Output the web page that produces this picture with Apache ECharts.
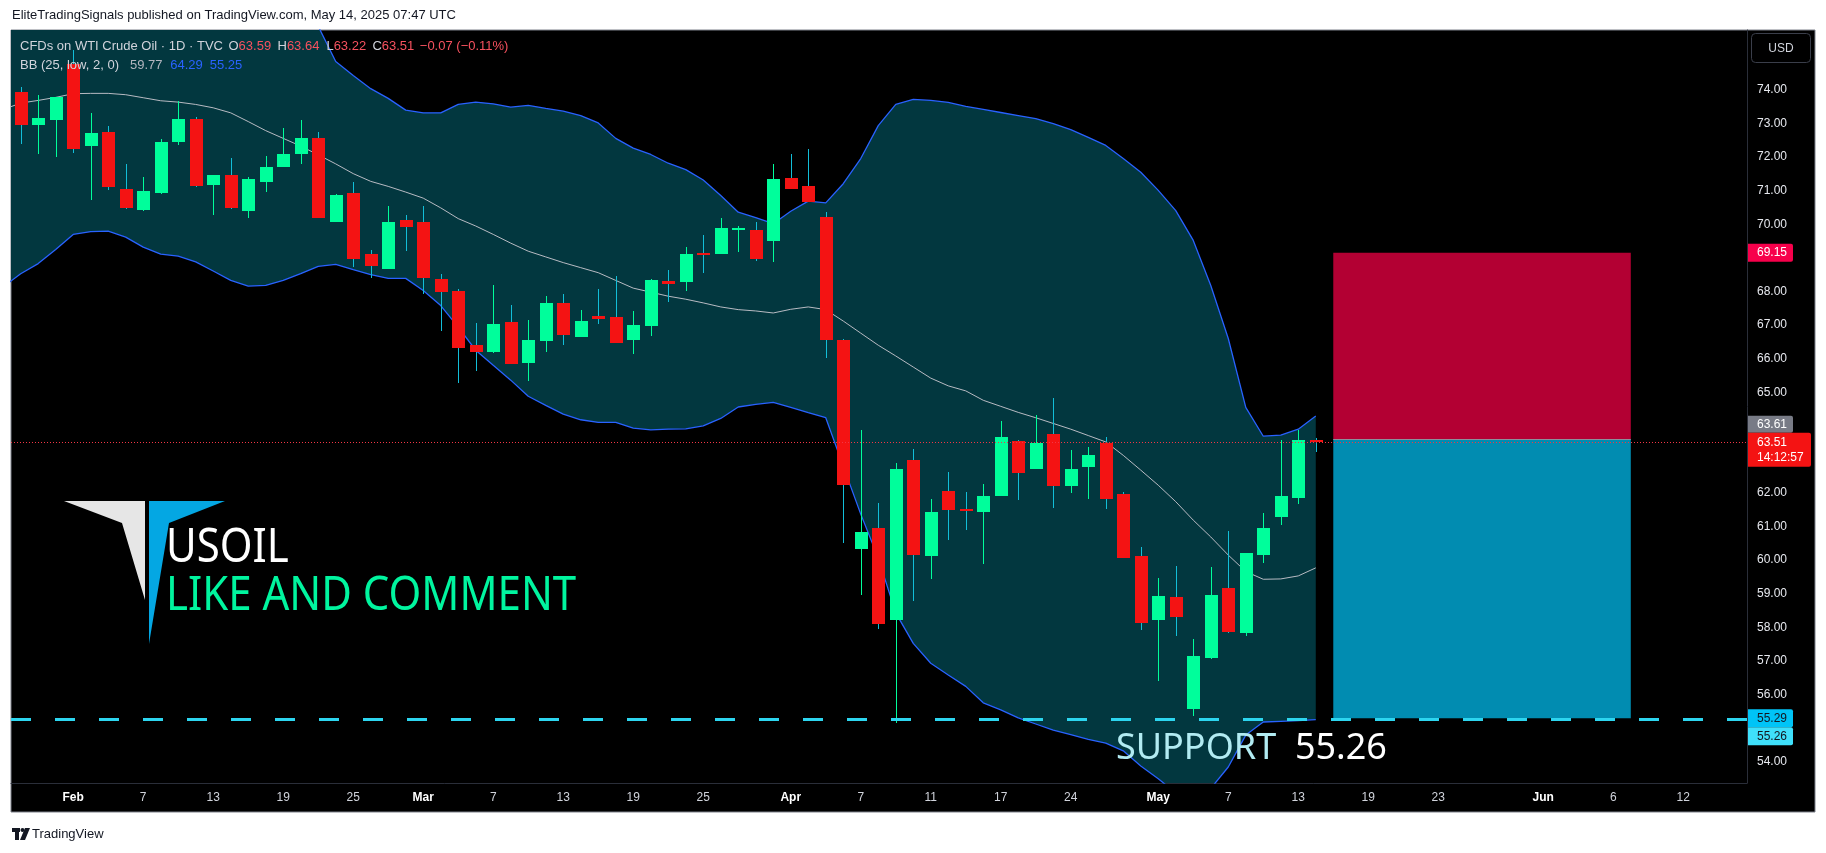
<!DOCTYPE html>
<html><head><meta charset="utf-8">
<script src="https://cdn.jsdelivr.net/npm/echarts@6/dist/echarts.min.js"></script>
<style>html,body{margin:0;padding:0;background:#fff}#c{width:1826px;height:853px}</style>
</head><body><div id="c"></div>
<script>
// ---------------- DATA ----------------
const candleDates = ['01-29','01-30','01-31','02-03','02-04','02-05','02-06','02-07','02-10','02-11','02-12','02-13','02-14','02-17','02-18','02-19','02-20','02-21','02-24','02-25','02-26','02-27','02-28','03-03','03-04','03-05','03-06','03-07','03-10','03-11','03-12','03-13','03-14','03-17','03-18','03-19','03-20','03-21','03-24','03-25','03-26','03-27','03-28','03-31','04-01','04-02','04-03','04-04','04-07','04-08','04-09','04-10','04-11','04-14','04-15','04-16','04-17','04-21','04-22','04-23','04-24','04-25','04-28','04-29','04-30','05-01','05-02','05-05','05-06','05-07','05-08','05-09','05-12','05-13','05-14'];
const futureDates = ['05-15','05-16','05-19','05-20','05-21','05-22','05-23','05-26','05-27','05-28','05-29','05-30','06-02','06-03','06-04','06-05','06-06','06-09','06-10','06-11','06-12','06-13','06-16','06-17','06-18','06-19','06-20'];
const opens  = [73.93,72.95,73.10,74.78,72.33,72.74,71.04,70.42,70.93,72.45,73.15,71.16,71.46,70.39,71.26,71.70,72.09,72.56,70.07,70.92,69.11,68.67,70.12,70.06,68.36,68.00,66.40,66.20,67.08,65.87,66.53,67.65,66.65,67.26,67.23,66.56,66.97,68.30,68.28,69.16,69.11,69.82,69.82,69.50,71.37,71.13,70.21,66.56,60.34,60.95,58.22,62.98,60.13,62.05,61.53,61.44,61.91,63.54,62.72,63.75,62.21,62.78,63.49,61.97,60.12,58.22,58.89,55.58,57.09,59.16,57.84,60.16,61.29,61.85,63.59];
const highs  = [74.08,73.84,73.80,75.18,73.33,72.94,71.81,71.40,72.53,73.66,73.21,71.46,71.99,71.40,72.02,72.88,73.12,72.74,70.89,71.25,69.25,70.54,70.27,70.56,68.53,68.06,67.05,68.18,67.59,67.14,67.86,67.92,67.44,68.06,68.45,67.41,68.36,68.63,69.31,69.67,70.18,69.94,70.06,71.81,72.08,72.23,70.36,66.60,63.87,61.69,62.89,63.30,61.82,62.62,62.02,62.26,64.14,63.57,64.32,64.82,63.27,63.37,63.66,62.02,60.39,59.46,59.82,57.64,59.79,60.88,60.21,61.40,63.57,63.87,63.64];
const lows   = [72.38,72.09,72.00,72.12,70.72,71.02,70.45,70.40,70.90,72.36,71.12,70.27,70.45,70.19,70.96,71.70,71.79,70.19,70.07,68.73,68.40,68.67,69.20,67.94,66.82,65.28,65.63,66.17,65.84,65.34,66.20,66.41,66.65,67.03,66.47,66.14,66.67,67.69,68.01,68.55,69.11,69.17,68.91,68.88,71.04,70.66,66.02,60.50,58.97,57.96,55.14,58.79,59.44,60.60,60.90,59.89,61.91,61.79,62.72,61.56,62.00,61.83,61.53,60.07,57.93,56.41,57.75,55.37,57.05,57.84,57.75,59.92,61.05,61.68,63.22];
const closes = [72.95,73.18,73.78,72.24,72.71,71.11,70.48,70.98,72.44,73.15,71.14,71.46,70.48,71.34,71.72,72.08,72.56,70.19,70.86,68.97,68.76,70.06,69.92,68.41,67.98,66.33,66.20,67.02,65.84,66.55,67.65,66.70,67.11,67.18,66.47,66.99,68.33,68.22,69.11,69.13,69.88,69.88,68.97,71.34,71.04,70.66,66.56,62.25,60.83,58.11,62.71,60.16,61.43,61.50,61.47,61.91,63.66,62.60,63.49,62.21,62.71,63.13,61.83,60.07,58.14,58.92,58.31,57.14,58.95,57.87,60.20,60.97,61.90,63.57,63.51];

// Bollinger Bands (25, low, 2, 0); first point is Jan 28
const bandStartDate = '01-28';
const bbUpper = [78.70,78.69,78.55,78.31,78.08,78.02,78.00,78.10,78.22,78.25,78.23,78.26,78.33,78.31,77.96,77.40,76.79,76.13,75.90,74.85,74.43,74.04,73.75,73.40,73.32,73.32,73.57,73.64,73.59,73.49,73.54,73.45,73.37,73.24,73.02,72.56,72.27,72.08,71.82,71.63,71.32,70.86,70.36,70.20,70.02,70.39,70.69,70.64,71.21,71.96,72.94,73.57,73.72,73.69,73.63,73.51,73.42,73.33,73.24,73.15,73.00,72.82,72.59,72.35,71.96,71.55,71.01,70.41,69.52,68.18,66.60,64.55,63.69,63.72,63.90,64.29];
const bbBasis = [73.42,73.61,73.69,73.78,73.89,73.90,73.90,73.86,73.77,73.68,73.64,73.57,73.47,73.32,73.06,72.79,72.56,72.33,72.07,71.80,71.51,71.28,71.13,70.96,70.78,70.49,70.17,69.95,69.70,69.44,69.20,69.03,68.86,68.71,68.56,68.33,68.10,67.98,67.86,67.77,67.66,67.54,67.46,67.42,67.36,67.47,67.54,67.46,67.12,66.76,66.40,66.08,65.75,65.42,65.19,65.04,64.76,64.58,64.40,64.24,64.07,63.90,63.71,63.52,63.12,62.68,62.23,61.74,61.19,60.69,60.15,59.66,59.43,59.44,59.53,59.77];
const bbLower = [68.14,68.53,68.83,69.25,69.70,69.78,69.80,69.62,69.32,69.11,69.05,68.88,68.61,68.33,68.16,68.18,68.33,68.53,68.75,68.81,68.65,68.50,68.39,68.39,68.03,67.58,66.94,66.25,65.80,65.36,64.88,64.61,64.35,64.18,64.10,64.10,63.93,63.88,63.90,63.91,64.00,64.22,64.56,64.64,64.70,64.55,64.39,64.24,62.80,61.37,60.06,58.43,57.52,56.93,56.58,56.24,55.75,55.54,55.30,55.12,54.94,54.80,54.66,54.55,54.32,53.87,53.49,53.07,52.86,53.20,53.84,54.79,55.18,55.20,55.22,55.25];

const tickDates  = ['02-03','02-07','02-13','02-19','02-25','03-03','03-07','03-13','03-19','03-25','04-01','04-07','04-11','04-17','04-24','05-01','05-07','05-13','05-19','05-23','06-02','06-06','06-12'];
const tickLabels = ['Feb','7','13','19','25','Mar','7','13','19','25','Apr','7','11','17','24','May','7','13','19','23','Jun','6','12'];
const monthLabels = ['Feb','Mar','Apr','May','Jun'];
const yTickValues = [54,56,57,58,59,60,61,62,65,66,67,68,70,71,72,73,74];

const lastPrice = 63.51, entryPrice = 63.61, stopPrice = 69.15, targetPrice = 55.29, supportLevel = 55.26;
const positionStartDate = '05-15', positionEndDate = '06-09';
const countdown = '14:12:57';
const legendOHLC = {O:'63.59', H:'63.64', L:'63.22', C:'63.51', chg:'\u22120.07 (\u22120.11%)'};
const legendBB = ['59.77','64.29','55.25'];

// ---------------- BUILD ----------------
const allDates = [bandStartDate].concat(candleDates, futureDates);
const idx = d => allDates.indexOf(d);
const GREEN = '#00fe9b', RED = '#f41313', WICK = '#12bed8', BLUE = '#2962ff', TEAL = '#02373f';
const FONT = '"Liberation Sans", Arial, sans-serif';

const candleData = candleDates.map((d,i) => [idx(d), opens[i], closes[i], lows[i], highs[i]]);
const bandX = bbUpper.map((_,j) => idx(bandStartDate) + j);
const upperData = bandX.map((x,j) => [x, bbUpper[j]]);
const lowerData = bandX.map((x,j) => [x, bbLower[j]]);
const basisData = bandX.map((x,j) => [x, bbBasis[j]]);
const tickIdx = tickDates.map(idx);

const chart = echarts.init(document.getElementById('c'), null, {renderer:'canvas', width:1826, height:853});

const option = {
  animation: false,
  backgroundColor: '#ffffff',
  grid: {left: 11, right: 79, top: 30, bottom: 70, containLabel: false},
  xAxis: {
    type: 'value', min: 0.446, max: 99.64,
    axisLine: {show: true, lineStyle: {color: '#2a2e39'}},
    axisTick: {show: false}, splitLine: {show: false},
    axisLabel: {
      customValues: tickIdx, margin: 9, color: '#d1d4dc', fontSize: 12, fontFamily: FONT,
      formatter: v => { const k = tickIdx.indexOf(Math.round(v)); if (k < 0) return ''; const t = tickLabels[k]; return monthLabels.includes(t) ? '{b|' + t + '}' : t; },
      rich: {b: {fontWeight: 'bold', color: '#ffffff', fontSize: 12, fontFamily: FONT}}
    }
  },
  yAxis: {
    type: 'value', position: 'right', min: 53.363, max: 75.787, scale: true,
    axisLine: {show: true, lineStyle: {color: '#2a2e39'}},
    axisTick: {show: false}, splitLine: {show: false},
    axisLabel: {customValues: yTickValues, margin: 10, color: '#e6e8ee', fontSize: 12, fontFamily: FONT, formatter: v => v.toFixed(2)}
  },
  series: [
    {type:'custom', name:'bbFill', data:[[10, 65]], encode:{x:0, y:1}, z:1, clip:true, silent:true,
      renderItem: function(params, api) {
        const pts = [];
        for (let j = 0; j < bandX.length; j++) pts.push(api.coord([bandX[j], bbUpper[j]]));
        for (let j = bandX.length - 1; j >= 0; j--) pts.push(api.coord([bandX[j], bbLower[j]]));
        return {type:'polygon', shape:{points: pts}, style:{fill: TEAL}};
      }},
    {type:'line', name:'upper', data: upperData, symbol:'none', lineStyle:{color: BLUE, width:1.3}, silent:true, z:2},
    {type:'line', name:'lower', data: lowerData, symbol:'none', lineStyle:{color: BLUE, width:1.3}, silent:true, z:2},
    {type:'line', name:'basis', data: basisData, symbol:'none', lineStyle:{color: '#b8bbc3', width:1}, silent:true, z:2},
    {type:'line', name:'lastPriceLine', data: [], z:3, silent:true,
      markLine: {silent:true, symbol:['none','none'], label:{show:false}, lineStyle:{color:'#f23645', width:1, type:[1,2]}, data:[{yAxis: lastPrice}]}},
    {type:'custom', name:'candles', data: candleData, encode:{x:0, y:[1,2,3,4]}, z:4, clip:true,
      renderItem: function(params, api) {
        const x = api.value(0), o = api.value(1), c = api.value(2), l = api.value(3), h = api.value(4);
        const pO = api.coord([x,o]), pC = api.coord([x,c]), pH = api.coord([x,h]), pL = api.coord([x,l]);
        const cx = Math.round(pO[0]);
        const up = c >= o;
        const top = Math.round(Math.min(pO[1], pC[1])), bot = Math.round(Math.max(pO[1], pC[1]));
        const yh = Math.round(pH[1]), yl = Math.round(pL[1]);
        return {type:'group', children:[
          {type:'rect', shape:{x: cx, y: yh, width: 1, height: Math.max(1, yl - yh)}, style:{fill: up ? GREEN : WICK}},
          {type:'rect', shape:{x: cx - 6, y: top, width: 13, height: Math.max(2, bot - top)}, style:{fill: up ? GREEN : RED}}
        ]};
      }},
    {type:'line', name:'position', data: [], z:5, silent:true,
      markArea: {silent:true, data:[
        [{coord:[idx(positionStartDate), stopPrice], itemStyle:{color:'#b30033', opacity:1}}, {coord:[idx(positionEndDate), entryPrice]}],
        [{coord:[idx(positionStartDate), entryPrice], itemStyle:{color:'#018cb1', opacity:1}}, {coord:[idx(positionEndDate), targetPrice]}]
      ]},
      markLine: {silent:true, symbol:['none','none'], label:{show:false}, lineStyle:{color:'#8d909a', width:1, type:'solid'},
        data:[[{coord:[idx(positionStartDate), entryPrice]}, {coord:[idx(positionEndDate), entryPrice]}]]}},
    {type:'line', name:'support', data: [], z:6, silent:true,
      markLine: {silent:true, symbol:['none','none'], label:{show:false}, lineStyle:{color:'#2dd5ef', width:3, type:[20,24]}, data:[{yAxis: supportLevel}]}}
  ]
};
chart.setOption(option);

// ---------------- ANNOTATIONS ----------------
const yp = v => chart.convertToPixel({yAxisIndex:0}, v);
function txt(x, y, text, opt) {
  opt = opt || {};
  return {type:'text', x: x, y: y, z: opt.z || 100, silent:true, scaleX: opt.sx || 1, scaleY: opt.sy || 1,
    style:{text: text, x:0, y:0, fill: opt.fill || '#d1d4dc', fontSize: opt.size || 13, fontFamily: opt.family || FONT,
      fontWeight: opt.weight || 'normal', align: opt.align || 'left', verticalAlign: 'middle',
      textAlign: opt.align || 'left', textVerticalAlign: 'middle', rich: opt.rich}};
}
const g = [];
// panel
g.push({type:'rect', z:-100, silent:true, shape:{x:11, y:30, width:1804, height:782}, style:{fill:'#000000', stroke:'#7d808a', lineWidth:1}});
// page header / footer
g.push(txt(12, 15, 'EliteTradingSignals published on TradingView.com, May 14, 2025 07:47 UTC', {fill:'#131722', size:13}));
g.push({type:'group', z:100, silent:true, children:[
  {type:'rect', shape:{x:12, y:828, width:8, height:4}, style:{fill:'#131722'}},
  {type:'rect', shape:{x:15, y:828, width:4, height:12}, style:{fill:'#131722'}},
  {type:'circle', shape:{cx:22.5, cy:830, r:2}, style:{fill:'#131722'}},
  {type:'polygon', shape:{points:[[25,828],[30,828],[25,840],[20,840]]}, style:{fill:'#131722'}}
]});
g.push(txt(32, 834, 'TradingView', {fill:'#131722', size:13}));
// legend
const RC = '#f7525f';
g.push(txt(20, 46, 'CFDs on WTI Crude Oil \u00b7 1D \u00b7 TVC', {size:13}));
const rich = {w:{fill:'#d1d4dc', fontSize:13, fontFamily:FONT}, r:{fill:RC, fontSize:13, fontFamily:FONT}};
g.push(txt(228.5, 46, '{w|O}{r|' + legendOHLC.O + '}', {rich}));
g.push(txt(277.5, 46, '{w|H}{r|' + legendOHLC.H + '}', {rich}));
g.push(txt(326.4, 46, '{w|L}{r|' + legendOHLC.L + '}', {rich}));
g.push(txt(372.4, 46, '{w|C}{r|' + legendOHLC.C + '}', {rich}));
g.push(txt(419.8, 46, legendOHLC.chg, {fill:RC}));
g.push(txt(20, 65.5, 'BB (25, low, 2, 0)', {size:13}));
g.push(txt(130, 65.5, legendBB[0], {fill:'#b2b5be'}));
g.push(txt(170.3, 65.5, legendBB[1], {fill:BLUE}));
g.push(txt(209.7, 65.5, legendBB[2], {fill:BLUE}));
// logo + promo text
g.push({type:'polygon', z:90, silent:true, shape:{points:[[64,501],[145,501],[145,600],[122,523]]}, style:{fill:'#e6e6e6'}});
g.push({type:'polygon', z:90, silent:true, shape:{points:[[149,501],[225,501],[169,523],[149,644]]}, style:{fill:'#04a7e3'}});
g.push(txt(166, 548, 'USOIL', {fill:'#ffffff', size:42, family:'"Noto Sans", sans-serif', sy:1.13}));
g.push(txt(166, 596, 'LIKE AND COMMENT', {fill:'#00f59f', size:42, family:'"Noto Sans", sans-serif', sy:1.13}));
// support label
g.push(txt(1116, 749, '{a|SUPPORT}{b|  55.26}', {size:36, family:'"Noto Sans", sans-serif',
  rich:{a:{fill:'#b2ebf2', fontSize:36, fontFamily:'"Noto Sans", sans-serif'}, b:{fill:'#ffffff', fontSize:36, fontFamily:'"Noto Sans", sans-serif'}}}));
// USD button
g.push({type:'rect', z:100, silent:true, shape:{x:1751.5, y:33.5, width:59, height:29, r:4}, style:{fill:'#000', stroke:'#3a3e4a', lineWidth:1}});
g.push(txt(1781, 48.5, 'USD', {size:12, align:'center', fill:'#d1d4dc'}));
// price tags
function tag(yTop, h, w, fill, lines, color) {
  g.push({type:'rect', z:100, silent:true, shape:{x:1748, y:yTop, width:w, height:h, r:[0,2,2,0]}, style:{fill}});
  lines.forEach(l => g.push(txt(1757, l[1], l[0], {size:12, fill: color, z:101})));
}
const yStop = yp(stopPrice), yLast = yp(lastPrice), yTarget = yp(targetPrice);
tag(yStop - 9, 18, 45, '#f7004b', [[stopPrice.toFixed(2), yStop]], '#ffffff');
tag(yLast - 9.5 - 17, 17, 45, '#787b86', [[entryPrice.toFixed(2), yLast - 18]], '#ffffff');
tag(yLast - 9.5, 34, 63, '#f41313', [[lastPrice.toFixed(2), yLast], [countdown, yLast + 15]], '#ffffff');
tag(yTarget - 9, 18, 45, '#00c4f7', [[targetPrice.toFixed(2), yTarget]], '#131722');
tag(yTarget + 9, 18, 45, '#3fe0fb', [[supportLevel.toFixed(2), yTarget + 18]], '#131722');
chart.setOption({graphic: g});
</script></body></html>
